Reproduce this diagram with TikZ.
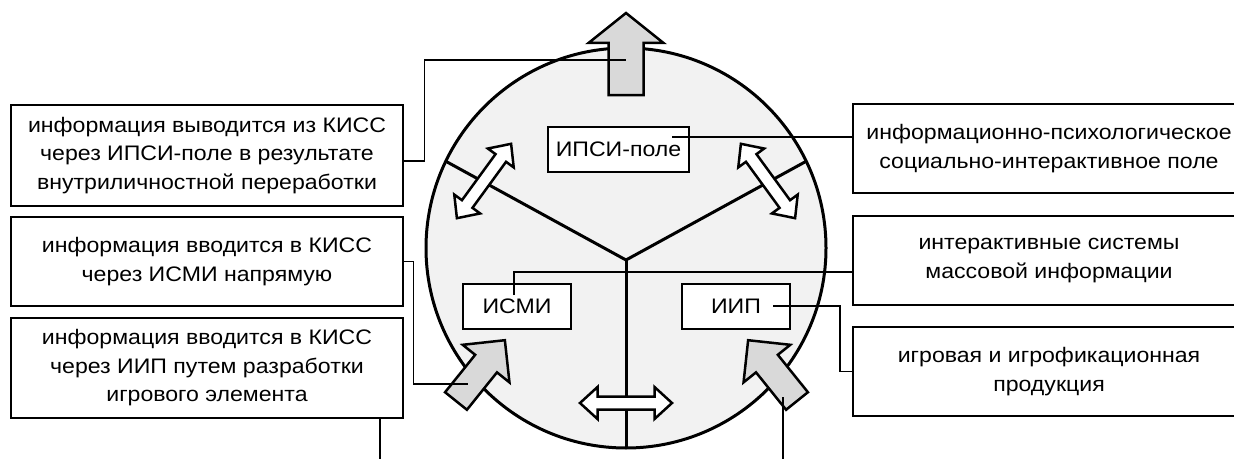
\documentclass[tikz,border=0pt]{standalone}
\usepackage{fontspec}
\setmainfont[FakeStretch=1.1]{Liberation Sans}
\usetikzlibrary{calc}
\definecolor{disk}{HTML}{F2F2F2}
\definecolor{flow}{HTML}{D9D9D9}
% block arrow: tail, angle, length, half shaft, half head, head length
\newcommand{\onearrow}[6]{%
  \draw[line width=2.5,fill=flow,shift={(#1)},rotate=#2]
    (0,-#4)--(#3-#6,-#4)--(#3-#6,-#5)--(#3,0)--(#3-#6,#5)--(#3-#6,#4)--(0,#4)--cycle;}
% double block arrow: centre, angle
\newcommand{\twoarrow}[2]{%
  \draw[line width=2.5,fill=white,shift={(#1)},rotate=#2]
    (-46,0)--(-28.5,16)--(-28.5,6.5)--(28.5,6.5)--(28.5,16)--(46,0)
    --(28.5,-16)--(28.5,-6.5)--(-28.5,-6.5)--(-28.5,-16)--cycle;}
\begin{document}
\begin{tikzpicture}[x=1pt,y=1pt,
  every node/.style={font=\fontsize{21}{28.5}\selectfont},
  box/.style={draw,line width=1.5,fill=white,minimum width=392,align=center},
  tag/.style={draw,line width=1.5,fill=white,minimum width=141,minimum height=45,inner sep=0},
  link/.style={line width=1.2}]
\useasboundingbox (0,0) rectangle (1234,459);
% disk and its three sectors
\coordinate (c) at (626,211);
\coordinate (j) at (626,199);
\draw[line width=3,fill=disk] (c) circle (200);
\draw[line width=3] ($(c)+(154.3:200)$) -- (j) -- ($(c)+(25.7:200)$);
\draw[line width=3] (j) -- ($(c)+(-90:200)$);
% flows
\onearrow{626,364}{90}{82}{17.5}{37.5}{30}
\onearrow{456,58}{51.2}{78}{14}{30}{30}
\onearrow{797,58}{128.8}{78}{14}{30}{30}
\twoarrow{484,278}{53.9}
\twoarrow{768,278}{-53.9}
\twoarrow{626,56}{0}
% sectors
\node[tag] (ipsi) at (618.5,309.5) {ИПСИ-поле};
\node[tag,minimum width=108] (ismi) at (517,152.5) {ИСМИ};
\node[tag,minimum width=108] (iip) at (736,152.5) {ИИП};
% notes
\node[box,minimum height=101] (out) at (207,303.5) {информация выводится из КИСС\\через ИПСИ-поле в результате\\внутриличностной переработки};
\node[box,minimum height=89] (in1) at (207,197.5) {информация вводится в КИСС\\через ИСМИ напрямую};
\node[box,minimum height=100] (in2) at (207,91) {информация вводится в КИСС\\через ИИП путем разработки\\игрового элемента};
\node[box,minimum height=89] (ipsinote) at (1049,310.5) {информационно-психологическое\\социально-интерактивное поле};
\node[box,minimum height=89] (isminote) at (1049,198.5) {интерактивные системы\\массовой информации};
\node[box,minimum height=89] (iipnote) at (1049,87.5) {игровая и игрофикационная\\продукция};
% leaders
\coordinate (outtip) at (626,399);
\coordinate (in1tip) at (468,75);
\coordinate (in2end) at (380,0);
\coordinate (ipsifoot) at (672,322);
\coordinate (ismifoot) at (514,164);
\coordinate (iipfoot) at (773,153);
\coordinate (iiptail) at (783,62);
\coordinate (iipend) at (783,0);
\draw[link] ([yshift=-5.5]out.east) -- ++(21,0) |- (outtip);
\draw[link] (in1.east) -- ++(10,0) |- (in1tip);
\draw[link] (in2.south -| in2end) -- (in2end);
\draw[link] (ipsifoot) -- (ipsifoot -| ipsinote.west);
\draw[link] (ismifoot) |- ([yshift=-11.5]isminote.west);
\draw[link] (iipfoot) -- ++(67,0) |- (iipnote.west);
\draw[link] (iiptail) -- (iipend);
\end{tikzpicture}
\end{document}
